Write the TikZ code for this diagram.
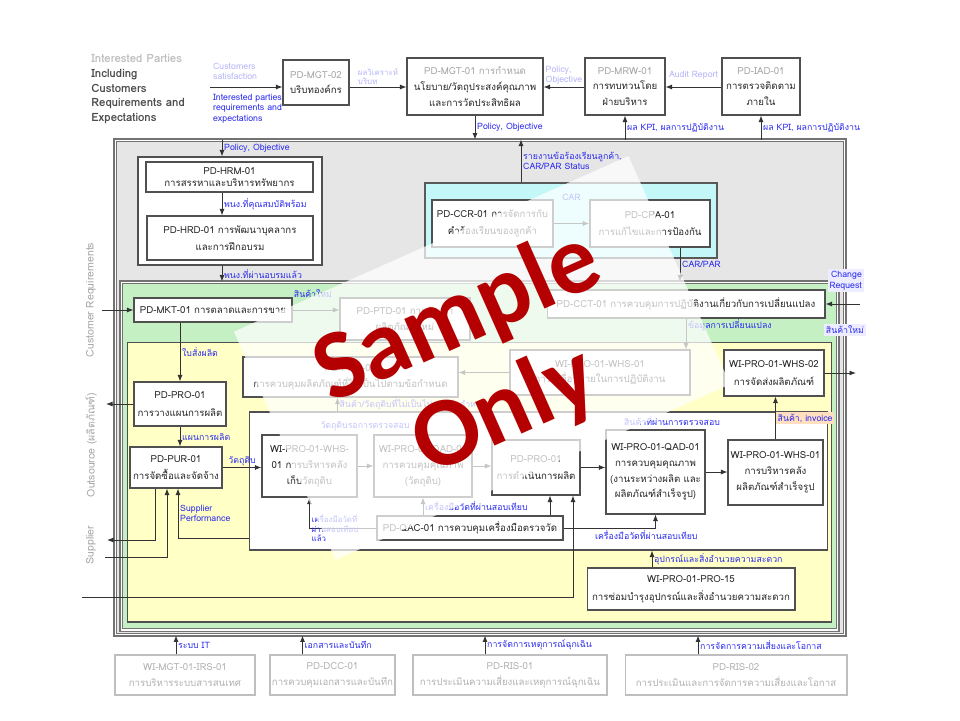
\documentclass[tikz,border=0pt]{standalone}
\usepackage{fontspec}
\setmainfont[Script=Thai]{Loma}
\newfontfamily\wmfont{Carlito}
\usetikzlibrary{arrows.meta,positioning}
\definecolor{pmblue}{HTML}{2B2BF0}
\definecolor{pmgray}{HTML}{E6E6E6}
\definecolor{pmgreen}{HTML}{C4F0C4}
\definecolor{pmyellow}{HTML}{FFFFC6}
\definecolor{pmcyan}{HTML}{C4F8F8}
\definecolor{pmline}{HTML}{505050}
\definecolor{pmred}{HTML}{B40000}
\tikzset{
  pmbox/.style={draw=pmline, fill=white, line width=0.6pt, align=center, inner sep=1pt, text=black!85},
  pmfbox/.style={pmbox, draw=black!25, text=black!30},
  pmzone/.style={draw=pmline, line width=0.6pt, inner sep=0pt},
  pmarrow/.style={-{Latex[length=1.3mm, width=1mm]}, draw=black!80, line width=0.5pt},
  pmlabel/.style={font=\fontsize{5}{6}\selectfont, text=pmblue, align=left, inner sep=1pt},
  pmflabel/.style={pmlabel, text=pmblue!35},
  pmside/.style={font=\fontsize{6}{7}\selectfont, text=black!35, rotate=90},
}
\begin{document}
\begin{tikzpicture}[x=0.02cm, y=-0.02cm, font=\fontsize{5.5}{7}\selectfont]
  \useasboundingbox[fill=white] (0,0) rectangle (960,720);

  % zones
  \node[pmzone, fill=pmgray, draw=black!55, double=white, double distance=0.6pt, minimum width=14.6cm, minimum height=9.9cm] (gray) at (480,387.5) {};
  \node[pmzone, fill=white, minimum width=3.68cm, minimum height=2.16cm] (hrmzone) at (230,211) {};
  \node[pmzone, fill=pmcyan, draw=black!65, line width=0.8pt, minimum width=5.84cm, minimum height=1.5cm] (cyan) at (571,220.5) {};
  \node[pmzone, fill=pmgreen, draw=black!55, double=white, double distance=0.6pt, minimum width=14.34cm, minimum height=6.96cm] (green) at (479.5,456) {};
  \node[pmzone, fill=pmyellow, minimum width=14.1cm, minimum height=5.6cm] (yellow) at (479.5,482) {};
  \node[pmzone, fill=white, minimum width=11.58cm, minimum height=2.76cm] (prod) at (538.5,481) {};

  % top row
  \node[font=\fontsize{6.5}{8.4}\selectfont\bfseries, text=black!70, align=left, anchor=north west, inner sep=0pt] (ipreq) at (91,54)
    {{\color{black!25}Interested Parties}\\Including\\Customers\\Requirements and\\Expectations};
  \coordinate (ipout) at (210,87);
  \node[pmbox, minimum width=1.32cm, minimum height=0.9cm] (mgt02) at (316,82.5) {{\color{black!35}PD-MGT-02}\\[2pt]บริบทองค์กร};
  \node[pmbox, minimum width=2.72cm, minimum height=1.14cm] (mgt01) at (475,86.5) {{\color{black!35}PD-MGT-01 การกำหนด}\\[2pt]นโยบาย/วัตถุประสงค์คุณภาพ\\[2pt]และการวัดประสิทธิผล};
  \node[pmbox, minimum width=1.6cm, minimum height=1.14cm] (mrw01) at (625,86.5) {{\color{black!35}PD-MRW-01}\\[2pt]การทบทวนโดย\\[2pt]ฝ่ายบริหาร};
  \node[pmbox, minimum width=1.56cm, minimum height=1.14cm] (iad01) at (761,86.5) {{\color{black!35}PD-IAD-01}\\[2pt]การตรวจติดตาม\\[2pt]ภายใน};

  \draw[pmarrow] (ipout) -- (ipout -| mgt02.west);
  \node[pmflabel, anchor=south west] (lcsat) at (211,82) {Customers\\satisfaction};
  \node[pmlabel, anchor=north west] (lipreq) at (211,92) {Interested parties\\requirements and\\expectations};
  \draw[pmarrow] (mgt02.east |- ipout) -- (mgt01.west |- ipout) node[pmflabel, midway, above, font=\fontsize{4.5}{5.5}\selectfont] (lctx) {ผลวิเคราะห์\\บริบท};
  \draw[pmarrow] (mrw01.west |- ipout) -- (mgt01.east |- ipout) node[pmflabel, midway, above] (lpol1) {Policy,\\Objective};
  \draw[pmarrow] (iad01.west |- ipout) -- (mrw01.east |- ipout) node[pmflabel, midway, above=3pt] (laud) {Audit Report};
  \draw[pmarrow] (mgt01.south) -- (mgt01.south |- gray.north) node[pmlabel, midway, right] (lpol2) {Policy, Objective};
  \draw[pmarrow] (mrw01.south |- gray.north) -- (mrw01.south) node[pmlabel, midway, right] (lkpi1) {ผล KPI, ผลการปฏิบัติงาน};
  \draw[pmarrow] (iad01.south |- gray.north) -- (iad01.south) node[pmlabel, midway, right] (lkpi2) {ผล KPI, ผลการปฏิบัติงาน};

  % HR
  \node[pmbox, minimum width=3.34cm, minimum height=0.6cm] (hrm01) at (229.5,177) {PD-HRM-01\\การสรรหาและบริหารทรัพยากร};
  \node[pmbox, minimum width=3.32cm, minimum height=0.88cm] (hrd01) at (230,238) {PD-HRD-01 การพัฒนาบุคลากร\\[3pt]และการฝึกอบรม};
  \coordinate (hrmx) at ([xshift=-0.16cm]hrmzone.north);
  \draw[pmarrow] (hrmx |- gray.north) -- (hrmx) node[pmlabel, midway, right] (lpol3) {Policy, Objective};
  \draw[pmarrow] (hrmx |- hrm01.south) -- (hrmx |- hrd01.north) node[pmlabel, midway, right] (lhr1) {พนง.ที่คุณสมบัติพร้อม};
  \draw[pmarrow] (hrmx |- hrmzone.south) -- (hrmx |- green.north) node[pmlabel, midway, right] (lhr2) {พนง.ที่ผ่านอบรมแล้ว};

  % complaints
  \node[pmbox, line width=0.9pt, minimum width=2.42cm, minimum height=0.94cm] (ccr01) at (492.5,223.5) {PD-CCR-01 การจัดการกับ\\[3pt]คำร้องเรียนของลูกค้า};
  \node[pmbox, line width=0.9pt, minimum width=2.4cm, minimum height=0.94cm] (cpa01) at (650,223.5) {PD-CPA-01\\[3pt]การแก้ไขและการป้องกัน};
  \coordinate (carx) at ([xshift=-1cm]cyan.north);
  \draw[pmarrow] (carx) -- (carx |- gray.north) node[pmlabel, midway, right] (lcsr) {รายงานข้อร้องเรียนลูกค้า,\\CAR/PAR Status};
  \draw[pmarrow] (ccr01) -- (cpa01) node[pmlabel, midway, yshift=0.52cm] (lcar) {CAR};
  \coordinate (cpax) at ([xshift=0.6cm]cpa01.south);
  \draw[pmarrow] (cpax) -- (cpax |- green.north) node[pmlabel, midway, right] (lcpar) {CAR/PAR};

  % marketing and change
  \node[pmlabel] (lnew1) at (313,294) {สินค้าใหม่};
  \node[pmbox, minimum width=3.16cm, minimum height=0.48cm] (mkt01) at (213,310) {PD-MKT-01 การตลาดและการขาย};
  \node[pmbox, minimum width=2.6cm, minimum height=0.84cm] (ptd01) at (405,319) {PD-PTD-01 การพัฒนา\\[2pt]ผลิตภัณฑ์ใหม่};
  \node[pmbox, minimum width=5.56cm, minimum height=0.56cm] (cct01) at (686,304) {PD-CCT-01 การควบคุมการปฏิบัติงานเกี่ยวกับการเปลี่ยนแปลง};
  \coordinate (custin) at (102,310);
  \coordinate (chgin) at (860,304);
  \draw[pmarrow] (custin) -- (mkt01.west);
  \draw[pmarrow] (mkt01.east) -- (ptd01.west |- mkt01.east);
  \draw[pmarrow] (chgin) -- (cct01.east);
  \node[pmlabel, fill=blue!7, align=right, anchor=south east] (lchg) at (864,292) {Change\\Request};
  \node[pmlabel, fill=blue!7] (lnew2) at (845,330) {สินค้าใหม่};

  % production planning
  \node[pmbox, minimum width=1.84cm, minimum height=0.88cm] (pro01) at (180,404) {PD-PRO-01\\[3pt]การวางแผนการผลิต};
  \node[pmbox, minimum width=1.84cm, minimum height=0.82cm] (pur01) at (176,467.5) {PD-PUR-01\\[3pt]การจัดซื้อและจัดจ้าง};
  \node[pmbox, minimum width=4.3cm, minimum height=0.8cm] (ncp) at (350.5,377) {PD-PRO-02\\[2pt]การควบคุมผลิตภัณฑ์ที่ไม่เป็นไปตามข้อกำหนด};
  \node[pmbox, minimum width=3.6cm, minimum height=0.9cm] (whs03) at (600,372.5) {WI-PRO-01-WHS-01\\[2pt]การเคลื่อนย้ายในการปฏิบัติงาน};
  \node[pmbox, minimum width=2cm, minimum height=0.92cm] (whs02) at (774,373) {WI-PRO-01-WHS-02\\[3pt]การจัดส่งผลิตภัณฑ์};

  \draw[pmarrow] (cct01.south) -- (cct01.south |- whs03.north) node[pmlabel, pos=0.2, right] (lchgd) {ข้อมูลการเปลี่ยนแปลง};
  \draw[pmarrow] (pro01.north |- mkt01.south) -- (pro01.north) node[pmlabel, midway, right] (lord) {ใบสั่งผลิต};
  \coordinate (outsrc) at (106,404);
  \draw[pmarrow] (pro01.west) -- (outsrc);
  \draw[pmarrow] (pro01.south) -- (pro01.south |- pur01.north) node[pmlabel, midway, right] (lplan) {แผนการผลิต};
  \draw[pmarrow] (whs03.west) -- (whs03.west -| ncp.east);

  % production area
  \node[pmbox, minimum width=1.9cm, minimum height=1.24cm] (whs01) at (309.5,466) {WI-PRO-01-WHS-\\[2pt]01 การบริหารคลัง\\[2pt]เก็บวัตถุดิบ};
  \node[pmbox, minimum width=1.96cm, minimum height=1.24cm] (qadraw) at (423,466) {WI-PRO-01-QAD-01\\[2pt]การควบคุมคุณภาพ\\[2pt](วัตถุดิบ)};
  \node[pmbox, minimum width=1.76cm, minimum height=1.1cm] (pro01b) at (536,467.5) {PD-PRO-01\\[3pt]การดำเนินการผลิต};
  \node[pmbox, minimum width=1.98cm, minimum height=1.68cm] (qadfg) at (655.5,472) {WI-PRO-01-QAD-01\\[2pt]การควบคุมคุณภาพ\\[2pt](งานระหว่างผลิต และ\\[2pt]ผลิตภัณฑ์สำเร็จรูป)};
  \node[pmbox, minimum width=1.9cm, minimum height=1.3cm] (whsfg) at (775.5,472.5) {WI-PRO-01-WHS-01\\[2pt]การบริหารคลัง\\[2pt]ผลิตภัณฑ์สำเร็จรูป};
  \node[pmbox, minimum width=3.72cm, minimum height=0.48cm] (cal01) at (470,528) {PD-QAC-01 การควบคุมเครื่องมือตรวจวัด};
  \node[pmbox, minimum width=4.16cm, minimum height=0.84cm] (pro15) at (691,589) {WI-PRO-01-PRO-15\\[3pt]การซ่อมบำรุงอุปกรณ์และสิ่งอำนวยความสะดวก};

  \coordinate (ncx) at ([xshift=-0.26cm]ncp.south);
  \draw[pmarrow] (ncx |- prod.north) -- (ncx) node[pmlabel, midway, right] (lnc) {สินค้า/วัตถุดิบที่ไม่เป็นไปตามข้อกำหนด};
  \node[pmlabel] (lwait) at (365,426) {วัตถุดิบรอการตรวจสอบ};
  \node[pmlabel] (lpass) at (672,421) {สินค้าที่ผ่านการตรวจสอบ};
  \draw[pmarrow] (pur01.east) -- (pur01.east -| whs01.west) node[pmlabel, midway, above] (lraw) {วัตถุดิบ};
  \draw[pmarrow] (whs01.east) -- (qadraw.west);
  \draw[pmarrow] (qadraw.east) -- (qadraw.east -| pro01b.west);
  \draw[pmarrow] (pro01b.east) -- (pro01b.east -| qadfg.west);
  \draw[pmarrow] (qadfg.east) -- (qadfg.east -| whsfg.west);
  \draw[pmarrow] (whsfg.north) -- (whsfg.north |- whs02.south) node[pmlabel, fill=orange!25, midway, right] (linv) {สินค้า, invoice};
  \coordinate (shipout) at (856,373);
  \draw[pmarrow] (whs02.east) -- (shipout);

  % supplier links
  \coordinate (supout) at (107,540);
  \coordinate (supin) at (105,557);
  \coordinate (osin) at (82,597);
  \draw[pmarrow] ([xshift=-0.42cm]pur01.south) |- (supout);
  \draw[pmarrow] (supin) -| ([xshift=-0.18cm]pur01.south);
  \draw[pmarrow] ([yshift=0.24cm]prod.south west) -| ([xshift=0.04cm]pur01.south) node[pmlabel, pos=0.75, right] (lspf) {Supplier\\Performance};
  \coordinate (p573) at ([xshift=0.74cm]pro01b.south);
  \draw[pmarrow] (osin) -| (p573);

  % calibration and facilities
  \coordinate (p550) at ([xshift=0.28cm]pro01b.south);
  \draw[pmarrow] (p550 |- cal01.north) -- (p550);
  \draw[pmarrow] (qadraw.south |- cal01.north) -- (qadraw.south) node[pmlabel, midway, right] (lcal1) {เครื่องมือวัดที่ผ่านสอบเทียบ};
  \draw[pmarrow] (cal01.east) -| (qadfg.south) node[pmlabel, pos=0.45, below] (lcal2) {เครื่องมือวัดที่ผ่านสอบเทียบ};
  \draw[pmarrow] (cal01.west) -| (whs01.south) node[pmlabel, pos=0.5, anchor=west, font=\fontsize{4.5}{5.5}\selectfont] (lcal3) {เครื่องมือวัดที่\\ผ่านสอบเทียบ\\แล้ว};
  \coordinate (p652) at ([xshift=-0.78cm]pro15.north);
  \draw[pmarrow] (p652) -- (p652 |- prod.south) node[pmlabel, midway, right] (lfac) {อุปกรณ์และสิ่งอำนวยความสะดวก};

  % support processes
  \node[pmfbox, minimum width=2.8cm, minimum height=0.8cm] (it01) at (185,675) {WI-MGT-01-IRS-01\\[2pt]การบริหารระบบสารสนเทศ};
  \node[pmfbox, minimum width=2.5cm, minimum height=0.8cm] (dcc01) at (332.5,675) {PD-DCC-01\\[2pt]การควบคุมเอกสารและบันทึก};
  \node[pmfbox, minimum width=3.88cm, minimum height=0.8cm] (ris01) at (510,675) {PD-RIS-01\\[2pt]การประเมินความเสี่ยงและเหตุการณ์ฉุกเฉิน};
  \node[pmfbox, minimum width=4.44cm, minimum height=0.8cm] (ris02) at (736,675) {PD-RIS-02\\[2pt]การประเมินและการจัดการความเสี่ยงและโอกาส};
  \coordinate (itx) at ([xshift=-0.18cm]it01.north);
  \coordinate (dccx) at ([xshift=-0.6cm]dcc01.north);
  \coordinate (ris1x) at ([xshift=-0.5cm]ris01.north);
  \coordinate (ris2x) at ([xshift=-0.76cm]ris02.north);
  \draw[pmarrow] (itx) -- (itx |- gray.south) node[pmlabel, midway, right] (lit) {ระบบ IT};
  \draw[pmarrow] (dccx) -- (dccx |- gray.south) node[pmlabel, midway, right] (ldoc) {เอกสารและบันทึก};
  \draw[pmarrow] (ris1x) -- (ris1x |- gray.south) node[pmlabel, midway, right] (lemg) {การจัดการเหตุการณ์ฉุกเฉิน};
  \draw[pmarrow] (ris2x) -- (ris2x |- gray.south) node[pmlabel, midway, right] (lrisk) {การจัดการความเสี่ยงและโอกาส};

  % side captions
  \node[pmside] (scust) at (91,300) {Customer Requirements};
  \node[pmside] (sout) at (91,445) {Outsource (ผลิตภัณฑ์)};
  \node[pmside] (ssup) at (91,545) {Supplier};

  % watermark
  \node[fill=white, fill opacity=0.72, rotate=24, minimum width=8.64cm, minimum height=5cm, inner sep=0pt] (wmsheet) at (482,358) {};
  \node[rotate=24, font=\wmfont\bfseries\fontsize{56}{56}\selectfont, text=pmred] (wmsample) at (458,318) {Sample};
  \node[rotate=24, font=\wmfont\bfseries\fontsize{56}{56}\selectfont, text=pmred] (wmonly) at (505,412) {Only};
\end{tikzpicture}
\end{document}
